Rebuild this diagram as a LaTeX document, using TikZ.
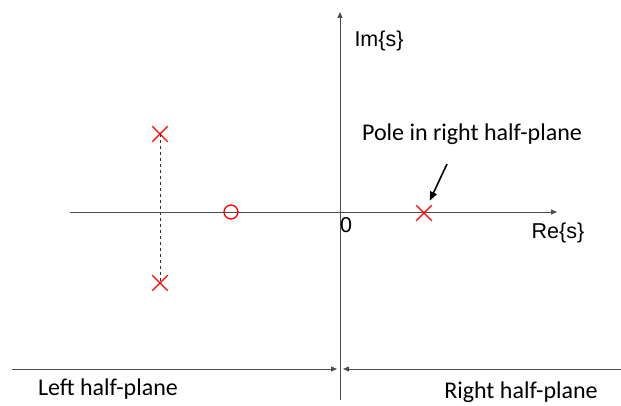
\documentclass[tikz,border=0pt]{standalone}
\usepackage{fontspec}
\setmainfont{Carlito}
\newfontfamily\arialfont{Liberation Sans}
\usetikzlibrary{arrows.meta,shapes.misc}

\begin{document}
\begin{tikzpicture}[x=1pt, y=-1pt, every node/.style={font=\fontsize{24}{28}\selectfont},
	>={Triangle[length=6pt,width=5pt]},
	axis/.style={draw=black!70, line width=0.8pt},
	axlabel/.style={font=\arialfont\fontsize{21.5}{24}\selectfont},
	pole/.style={cross out, draw=red, line width=1.3pt, minimum size=14pt, inner sep=0pt},
	zero/.style={circle, draw=red, line width=1.3pt, minimum size=14pt, inner sep=0pt}]
	\useasboundingbox (0,0) rectangle (621,406);
	% axes
	\coordinate (reL) at (70,212);
	\coordinate (reR) at (557,212);
	\coordinate (imB) at (340,400);
	\coordinate (imT) at (340,12);
	\draw[axis, ->] (reL) -- (reR);
	\draw[axis, ->] (imB) -- (imT);
	\node[axlabel] (im) at (379,41) {Im\{s\}};
	\node[axlabel] (re) at (558,233) {Re\{s\}};
	\node[axlabel] (orig) at (346,225) {0};
	% poles and zero
	\node[pole] (p1) at (160,134) {};
	\node[pole] (p2) at (160,283) {};
	\node[pole] (p3) at (424,213) {};
	\node[zero] (z1) at (231,212) {};
	\draw[black!80, dashed, line width=0.6pt] (p1.center) -- (p2.center);
	% label for the unstable pole
	\node (lbl) at (472,134) {Pole in right half-plane};
	\coordinate (tail) at (447,164);
	\draw[line width=1.6pt, shorten >=5pt, -{Triangle[length=9pt,width=7pt]}] (tail) -- (p3);
	% half-plane marks
	\coordinate (hpL) at (12,369);
	\coordinate (hpR) at (621,369);
	\coordinate (midL) at (337,369);
	\coordinate (midR) at (343,369);
	\draw[axis, ->] (hpL) -- (midL);
	\draw[axis, ->] (hpR) -- (midR);
	\node (left) at (108,389) {Left half-plane};
	\node (right) at (521,392) {Right half-plane};
\end{tikzpicture}
\end{document}
